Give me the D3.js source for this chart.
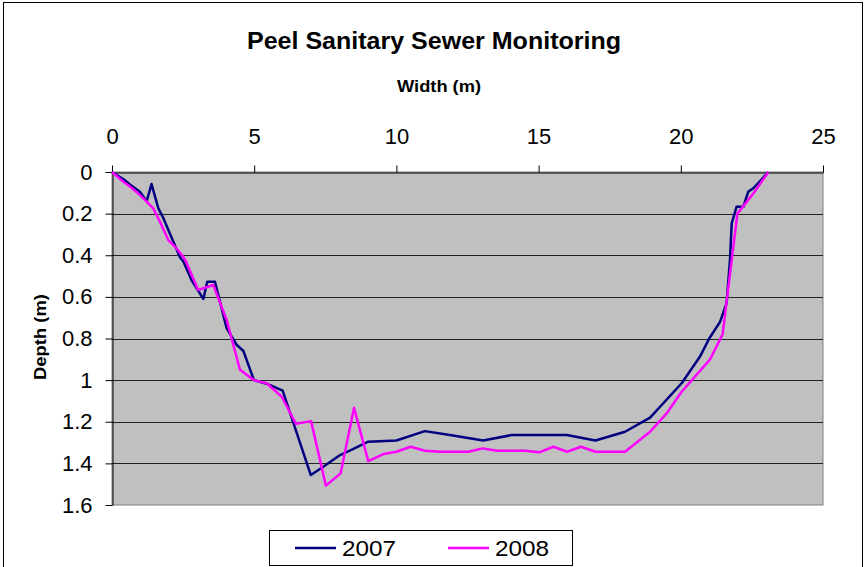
<!DOCTYPE html>
<html>
<head>
<meta charset="utf-8">
<script src="https://cdn.jsdelivr.net/npm/d3@7"></script>
<style>
  body { margin: 0; background: #fff; }
  text { font-family: Arial, "Liberation Sans", sans-serif; }
</style>
</head>
<body>
<div id="chart"></div>
<script>
// Peel sanitary sewer cross-section, width (m) vs depth (m)

var width = 867, height = 567;
var xTicks = [0, 5, 10, 15, 20, 25];
var yTicks = [0, 0.2, 0.4, 0.6, 0.8, 1, 1.2, 1.4, 1.6];

var width2007 = [0, 0.46, 0.63, 0.98, 1.22, 1.39, 1.63, 1.8, 2.39, 2.51, 2.8, 3.21, 3.35, 3.62,
    4.03, 4.38, 4.62, 4.99, 5.5, 6.0, 6.99, 7.43, 8.02, 8.49, 9.01, 10.0, 11.0, 11.88, 13.05,
    14.05, 15.05, 15.99, 17.0, 18.04, 18.92, 20.03, 20.67, 21.0, 21.38, 21.61, 21.73, 21.79,
    21.96, 22.2, 22.37, 22.55, 23.08];
var depth2007 = [0, 0.04, 0.06, 0.095, 0.14, 0.058, 0.175, 0.22, 0.41, 0.43, 0.52, 0.61, 0.527, 0.527,
    0.75, 0.83, 0.86, 1.0, 1.02, 1.05, 1.456, 1.416, 1.36, 1.33, 1.296, 1.29, 1.245, 1.264, 1.29,
    1.264, 1.264, 1.264, 1.29, 1.248, 1.18, 1.015, 0.888, 0.8, 0.72, 0.63, 0.42, 0.247,
    0.167, 0.167, 0.095, 0.078, 0];

var width2008 = [0, 0.4, 0.63, 0.98, 1.45, 1.69, 1.98, 2.27, 2.57, 3.03, 3.56, 4.03, 4.5, 4.99,
    5.44, 5.97, 6.47, 7.0, 7.52, 8.04, 8.51, 9.01, 9.54, 10.0, 10.5, 11.0, 11.53, 12.53, 13.03,
    13.53, 14.52, 15.02, 15.52, 16.0, 16.49, 17.0, 18.04, 18.92, 19.5, 20.03, 21.03, 21.47,
    21.99, 22.55, 23.08];
var depth2008 = [0, 0.047, 0.07, 0.11, 0.175, 0.24, 0.327, 0.367, 0.42, 0.567, 0.543, 0.71, 0.95, 1.0,
    1.015, 1.08, 1.21, 1.197, 1.507, 1.448, 1.133, 1.389, 1.355, 1.344, 1.32, 1.339, 1.344, 1.344, 1.328,
    1.339, 1.339, 1.347, 1.32, 1.344, 1.32, 1.344, 1.344, 1.248, 1.16, 1.056, 0.9, 0.78,
    0.2, 0.103, 0];

var seriesNames = ["2007", "2008"];
var seriesColors = ["#000080", "#ff00ff"];

function zip(xs, ys) {
    var out = [];
    for (var i = 0; i < xs.length; i++) out.push({x: xs[i], y: ys[i]});
    return out;
}
var series = [zip(width2007, depth2007), zip(width2008, depth2008)];

var pLeft = 112, pTop = 172, pRight = 823, pBottom = 505;

var svg = d3.select("#chart").append("svg")
    .attr("width", width)
    .attr("height", height);

// outer chart frame
svg.append("rect")
    .attr("x", 3.5).attr("y", 2.5)
    .attr("width", 859).attr("height", 580)
    .attr("fill", "#fff")
    .attr("stroke", "#000");

var x = d3.scaleLinear().domain([0, 25]).range([pLeft, pRight]);
var y = d3.scaleLinear().domain([0, 1.6]).range([pTop, pBottom]);

// plot area
svg.append("rect")
    .attr("x", pLeft).attr("y", pTop)
    .attr("width", pRight - pLeft).attr("height", pBottom - pTop)
    .attr("fill", "#c0c0c0")
    .attr("stroke", "#808080");

// horizontal gridlines
svg.append("g").selectAll("line")
    .data(yTicks.slice(1, -1))
    .enter().append("line")
    .attr("x1", pLeft).attr("x2", pRight)
    .attr("y1", function(d){return Math.round(y(d)) + 0.5})
    .attr("y2", function(d){return Math.round(y(d)) + 0.5})
    .attr("stroke", "#222");

var xAxis = svg.append("g")
    .attr("transform", "translate(0," + (pTop + 0.5) + ")")
    .call(d3.axisTop(x).tickValues(xTicks).tickSize(7).tickPadding(22).tickSizeOuter(0));
xAxis.selectAll("text").attr("font-size", 22).attr("fill", "#000");

var yAxis = svg.append("g")
    .attr("transform", "translate(" + (pLeft + 0.5) + ",0)")
    .call(d3.axisLeft(y).tickValues(yTicks).tickSize(7).tickPadding(13).tickSizeOuter(0)
        .tickFormat(function(d){return d3.format("~g")(d)}));
yAxis.selectAll("text").attr("font-size", 22).attr("fill", "#000");
svg.selectAll(".domain, .tick line").attr("stroke", "#000");

var line = d3.line()
    .x(function(d){return x(d.x)})
    .y(function(d){return y(d.y)});

svg.append("g").selectAll("path")
    .data(series)
    .enter().append("path")
    .attr("d", line)
    .attr("fill", "none")
    .attr("stroke", function(d, i){return seriesColors[i]})
    .attr("stroke-width", 2.5)
    .attr("stroke-linejoin", "round");

// titles
svg.append("text")
    .attr("x", 434).attr("y", 49)
    .attr("text-anchor", "middle")
    .attr("font-size", 23).attr("font-weight", "bold")
    .attr("textLength", 374).attr("lengthAdjust", "spacingAndGlyphs")
    .text("Peel Sanitary Sewer Monitoring");

svg.append("text")
    .attr("x", 439).attr("y", 92)
    .attr("text-anchor", "middle")
    .attr("font-size", 16).attr("font-weight", "bold")
    .attr("textLength", 84).attr("lengthAdjust", "spacingAndGlyphs")
    .text("Width (m)");

svg.append("text")
    .attr("transform", "translate(46,337) rotate(-90)")
    .attr("text-anchor", "middle")
    .attr("font-size", 16).attr("font-weight", "bold")
    .attr("textLength", 86).attr("lengthAdjust", "spacingAndGlyphs")
    .text("Depth (m)");

// legend
var legend = svg.append("g");
legend.append("rect")
    .attr("x", 269.5).attr("y", 530.5)
    .attr("width", 303).attr("height", 35)
    .attr("fill", "#fff").attr("stroke", "#000");

var legendX = [295, 448];
var item = legend.selectAll("g.item")
    .data(seriesNames)
    .enter().append("g").attr("class", "item");
item.append("line")
    .attr("x1", function(d, i){return legendX[i]})
    .attr("x2", function(d, i){return legendX[i] + 41})
    .attr("y1", 548).attr("y2", 548)
    .attr("stroke", function(d, i){return seriesColors[i]})
    .attr("stroke-width", 2.5);
item.append("text")
    .attr("x", function(d, i){return legendX[i] + 47})
    .attr("y", 556)
    .attr("font-size", 22)
    .attr("textLength", 54).attr("lengthAdjust", "spacingAndGlyphs")
    .text(function(d){return d});
</script>
</body>
</html>
